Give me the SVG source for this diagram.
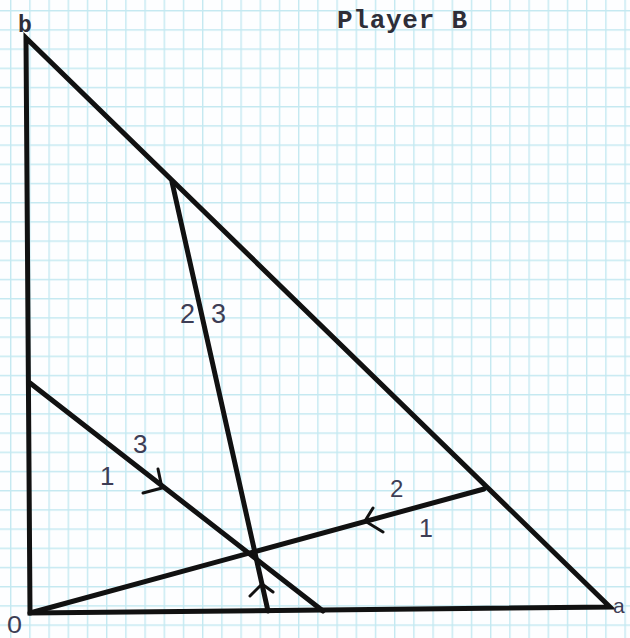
<svg xmlns="http://www.w3.org/2000/svg" width="630" height="638" viewBox="0 0 630 638">
  <style>
    .ln { fill: none; stroke: #111; stroke-width: 5; stroke-linecap: round; stroke-linejoin: miter; }
    .ar { fill: none; stroke: #111; stroke-width: 3; stroke-linecap: round; stroke-linejoin: round; }
    .lbl { font-family: "Liberation Sans", Arial, sans-serif; fill: #3d3d55; }
    .tw { font-family: "Liberation Mono", "Courier New", monospace; fill: #2e2e38; }
  </style>
  <defs>
    <pattern id="grid" x="10" y="10" width="19.2" height="19.2" patternUnits="userSpaceOnUse">
      <path d="M0.7 0 V19.2 M0 0.7 H19.2" stroke="#c4e9f1" stroke-width="1.4" fill="none"/>
    </pattern>
  </defs>
  <rect width="630" height="638" fill="#fdfeff"/>
  <rect width="630" height="638" fill="url(#grid)"/>

  <g id="connectors">
    <path id="triangle" class="ln" d="M610 607 L26 38 L30 613 Z"/>
    <path id="line-1-3" class="ln" d="M30 383 L323 611"/>
    <path id="line-2-1" class="ln" d="M30 613 L484 489"/>
    <path id="line-2-3" class="ln" d="M172 182 L268 611"/>
    <path id="arrow-1-3" class="ar" d="M158 469 L162 488 L143 493"/>
    <path id="arrow-2-1" class="ar" d="M373 508 L365 521 L383 532"/>
    <path id="arrow-2-3" class="ar" d="M250 596 L262 584 L273 592"/>
  </g>

  <g id="labels">
    <text class="tw" x="337" y="28" font-size="26" font-weight="bold" textLength="130">Player B</text>
    <text class="tw" x="18" y="32" font-size="23" font-weight="bold">b</text>
    <text class="lbl" x="7" y="633" font-size="23" textLength="15" lengthAdjust="spacingAndGlyphs">0</text>
    <text class="lbl" x="613" y="613" font-size="21">a</text>
    <text class="lbl" x="180" y="323" font-size="27">2</text>
    <text class="lbl" x="211" y="323" font-size="27">3</text>
    <text class="lbl" x="133" y="453" font-size="26">3</text>
    <text class="lbl" x="100" y="485" font-size="26">1</text>
    <text class="lbl" x="390" y="497" font-size="24">2</text>
    <text class="lbl" x="419" y="537" font-size="25">1</text>
  </g>
</svg>
